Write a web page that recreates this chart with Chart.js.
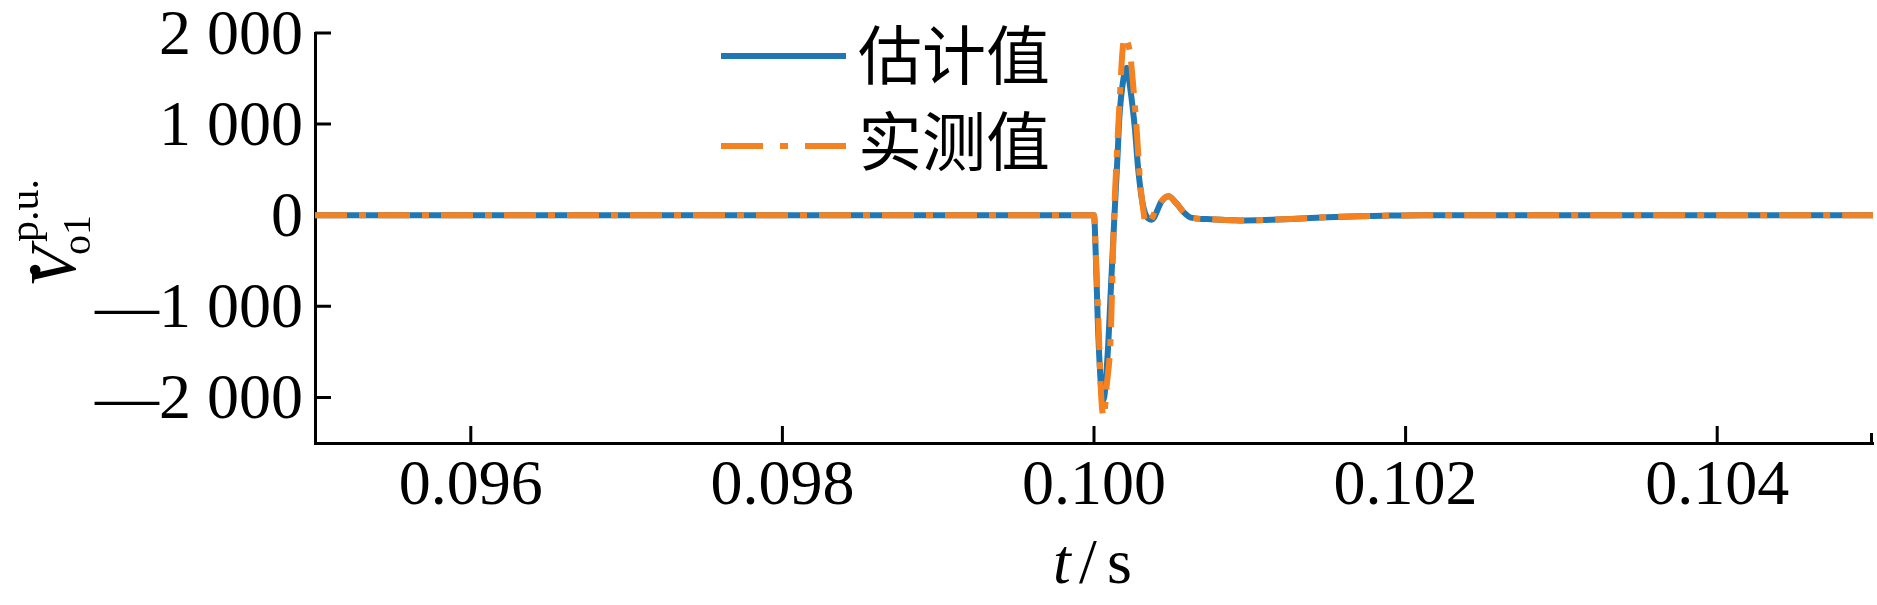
<!DOCTYPE html>
<html>
<head>
<meta charset="utf-8">
<script src="https://cdn.jsdelivr.net/npm/chart.js@4.4.1/dist/chart.umd.min.js"></script>
<style>
html,body{margin:0;padding:0;background:#fff;}
#wrap{width:1877px;height:605px;position:relative;}
</style>
</head>
<body>
<div id="wrap"><canvas id="c" width="1877" height="605"></canvas></div>
<script>
// ---- data ----
const seriesNames = ['估计值', '实测值'];

const estTime = [0.0950, 0.1000, 0.100011, 0.100024, 0.100045, 0.100060, 0.100088, 0.100109, 0.100130,
  0.100152, 0.100162, 0.100182, 0.100210, 0.100231, 0.100263, 0.100284, 0.100316, 0.100370, 0.100434,
  0.100477, 0.100525, 0.100578, 0.100621, 0.100750, 0.100900, 0.100970, 0.101100, 0.101300, 0.101500,
  0.101700, 0.101900, 0.102100, 0.1050];
const estValues = [0, 0, -415, -1148, -1881, -2027, -1514, -782, -49,
  684, 1049, 1415, 1618, 1415, 940, 500, 97, -49, 152,
  207, 139, 29, -26, -44, -55, -57, -52, -38, -22,
  -10, -4, 0, 0];

const meaTime = [0.0950, 0.1000, 0.1000115, 0.100028, 0.100045, 0.100062, 0.100081, 0.100107, 0.100128,
  0.100147, 0.100165, 0.100182, 0.100195, 0.100231, 0.100252, 0.100274, 0.100295, 0.100316, 0.100331,
  0.100360, 0.100402, 0.100477, 0.100525, 0.100578, 0.100621, 0.100750, 0.100900, 0.100970, 0.101100,
  0.101300, 0.101500, 0.101700, 0.101900, 0.102100, 0.1050];
const meaValues = [0, 0, -415, -1148, -1954, -2211, -1881, -1332, -49,
  684, 1269, 1782, 1947, 1782, 1415, 940, 390, 60, -86,
  -68, 79, 207, 139, 29, -26, -44, -55, -57, -52,
  -38, -22, -10, -4, 0, 0];

const xTicks = [0.096, 0.098, 0.100, 0.102, 0.104];
const xTickLabels = ['0.096', '0.098', '0.100', '0.102', '0.104'];
const yTicks = [-2000, -1000, 0, 1000, 2000];
const yTickLabels = ['\u20142 000', '\u20141 000', '0', '1 000', '2 000'];

// ---- styling ----
const serif = '"Liberation Serif", "Times New Roman", serif';
const cjk = '"Noto Sans CJK SC", "Noto Sans CJK JP", sans-serif';
const BLUE = '#1f77b4';
const ORANGE = '#f58220';

const toPts = (ts, vs) => ts.map((t, i) => ({x: t, y: vs[i]}));

const inwardTicks = {
  id: 'inwardTicks',
  beforeDatasetsDraw(chart) {
    const {ctx, chartArea: a, scales: {x, y}} = chart;
    ctx.save();
    ctx.strokeStyle = '#000';
    ctx.lineWidth = 3;
    ctx.lineCap = 'butt';
    ctx.beginPath();
    x.ticks.forEach(t => {
      const px = x.getPixelForValue(t.value);
      ctx.moveTo(px, a.bottom);
      ctx.lineTo(px, a.bottom - 17);
    });
    const pEnd = x.getPixelForValue(x.max) - 1.5;
    ctx.moveTo(pEnd, a.bottom);
    ctx.lineTo(pEnd, a.bottom - 10);
    y.ticks.forEach(t => {
      const py = y.getPixelForValue(t.value);
      ctx.moveTo(a.left, py);
      ctx.lineTo(a.left + 16, py);
    });
    ctx.stroke();
    ctx.restore();
  }
};

const annotations = {
  id: 'annotations',
  afterDraw(chart) {
    const {ctx, chartArea: a} = chart;
    ctx.save();
    ctx.fillStyle = '#000';

    // legend
    ctx.lineCap = 'butt';
    ctx.lineWidth = 6;
    ctx.strokeStyle = BLUE;
    ctx.setLineDash([]);
    ctx.beginPath(); ctx.moveTo(721, 56); ctx.lineTo(846, 56); ctx.stroke();
    ctx.strokeStyle = ORANGE;
    ctx.setLineDash([42, 17, 8, 17]);
    ctx.beginPath(); ctx.moveTo(721, 146); ctx.lineTo(846, 146); ctx.stroke();
    ctx.setLineDash([]);
    ctx.font = '64px ' + cjk;
    ctx.textAlign = 'left';
    ctx.textBaseline = 'middle';
    ctx.fillText(seriesNames[0], 858, 55);
    ctx.fillText(seriesNames[1], 858, 141);

    // x-axis title  t / s
    const cx = (a.left + a.right) / 2;
    ctx.textBaseline = 'alphabetic';
    ctx.font = 'italic 64px ' + serif;
    ctx.fillText('t', cx - 41, 583);
    ctx.font = '64px ' + serif;
    ctx.fillText('/', cx - 15, 583);
    ctx.fillText('s', cx + 13, 583);

    // y-axis title  V-dot with sup p.u. and sub o1 (rotated)
    ctx.translate(75, 287);
    ctx.rotate(-Math.PI / 2);
    ctx.textAlign = 'left';
    ctx.font = 'italic 66px ' + serif;
    ctx.fillText('V', 0, 0);
    ctx.textAlign = 'center';
    ctx.font = 'bold 66px ' + serif;
    ctx.fillText('.', 17, -35);
    ctx.textAlign = 'left';
    ctx.font = '42px ' + serif;
    ctx.fillText('p.u.', 45, -37);
    ctx.font = '40px ' + serif;
    ctx.fillText('o1', 32, 15);
    ctx.restore();
  }
};

new Chart(document.getElementById('c'), {
  type: 'line',
  data: {
    datasets: [
      {
        label: seriesNames[0],
        data: toPts(estTime, estValues),
        borderColor: BLUE,
        borderWidth: 6,
        pointRadius: 0,
        fill: false,
        cubicInterpolationMode: 'monotone',
        order: 2
      },
      {
        label: seriesNames[1],
        data: toPts(meaTime, meaValues),
        borderColor: ORANGE,
        borderWidth: 6,
        borderDash: [32, 12, 7, 12],
        borderCapStyle: 'butt',
        pointRadius: 0,
        fill: false,
        cubicInterpolationMode: 'monotone',
        order: 1
      }
    ]
  },
  options: {
    responsive: false,
    animation: false,
    devicePixelRatio: 1,
    layout: {padding: {top: 33, right: 4, left: 0, bottom: 0}},
    plugins: {legend: {display: false}, tooltip: {enabled: false}, title: {display: false}},
    scales: {
      x: {
        type: 'linear',
        min: 0.095,
        max: 0.105,
        afterBuildTicks: s => { s.ticks = xTicks.map(v => ({value: v})); },
        afterFit: s => { s.height = 162; s.paddingLeft = 0; s.paddingRight = 0; },
        grid: {display: false, drawTicks: false},
        border: {display: true, color: '#000', width: 3},
        ticks: {
          autoSkip: false, maxRotation: 0, padding: 6, color: '#000',
          font: {family: serif, size: 64},
          callback: (v, i) => xTickLabels[i]
        }
      },
      y: {
        type: 'linear',
        min: -2500,
        max: 2000,
        afterBuildTicks: s => { s.ticks = yTicks.map(v => ({value: v})); },
        afterFit: s => { s.width = 315; s.paddingTop = 0; s.paddingBottom = 0; },
        grid: {display: false, drawTicks: false},
        border: {display: true, color: '#000', width: 3},
        ticks: {
          autoSkip: false, padding: 12, labelOffset: 4, color: '#000',
          font: {family: serif, size: 64},
          callback: (v, i) => yTickLabels[i]
        }
      }
    }
  },
  plugins: [inwardTicks, annotations]
});
</script>
</body>
</html>
